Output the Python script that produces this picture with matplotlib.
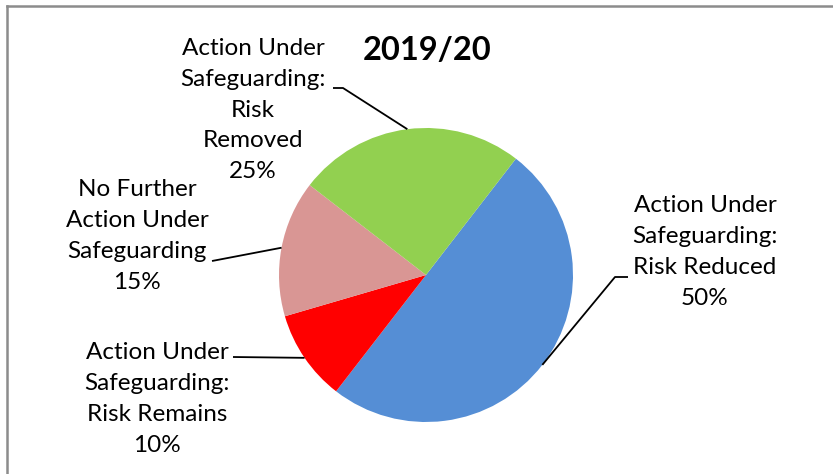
import numpy as np
import matplotlib
matplotlib.use("Agg")
import matplotlib.pyplot as plt
from matplotlib.lines import Line2D

# ---- data ----
labels = ["Action Under\nSafeguarding:\nRisk Reduced",
          "Action Under\nSafeguarding:\nRisk Remains",
          "No Further\nAction Under\nSafeguarding",
          "Action Under\nSafeguarding:\nRisk\nRemoved"]
values = [50, 10, 15, 25]
colors = ["#558ED5", "#FF0000", "#D99694", "#92D050"]
title = "2019/20"

W, H = 833, 474
plt.rcParams['font.family'] = ['Lato', 'DejaVu Sans']
fig = plt.figure(figsize=(W / 100, H / 100), dpi=100)
ax = fig.add_axes([0, 0, 1, 1])

cx, cy, r = 426, H - 275, 147
wedges, _ = ax.pie(values, colors=colors, startangle=52.3, counterclock=False,
                   center=(cx, cy), radius=r, frame=True,
                   wedgeprops=dict(linewidth=0))
ax.set_xlim(0, W)
ax.set_ylim(0, H)
ax.axis('off')

# label block centers (px, top-origin) and leader line start/elbow
label_pos = [(705, 252), (157, 399), (137, 236), (253, 110)]
leader_start = [[(628, 277), (615, 277)],
                [(233, 357)],
                [(212, 261)],
                [(333, 88), (343, 88)]]

for w, lab, v, (lx, ly), pts in zip(wedges, labels, values, label_pos, leader_start):
    ang = np.deg2rad((w.theta1 + w.theta2) / 2)
    ex, ey = cx + r * np.cos(ang), cy + r * np.sin(ang)
    ax.text(lx, H - ly, f"{lab}\n{v}%", ha='center', va='center',
            fontsize=17.5, linespacing=1.58, color='black')
    xs = [p[0] for p in pts] + [ex]
    ys = [H - p[1] for p in pts] + [ey]
    ax.plot(xs, ys, color='black', lw=1.3, solid_capstyle='butt')

ax.text(427, H - 50, title, ha='center', va='center', fontsize=23.5,
        fontweight='bold')

# chart border (top and left visible)
fig.add_artist(Line2D([6.5 / W, 6.5 / W], [0, 1 - 5.5 / H], transform=fig.transFigure,
                      color='#8c8c8c', lw=1.8))
fig.add_artist(Line2D([6.5 / W, 1], [1 - 5.5 / H, 1 - 5.5 / H], transform=fig.transFigure,
                      color='#8c8c8c', lw=1.8))

fig.savefig("out.png", dpi=100)
